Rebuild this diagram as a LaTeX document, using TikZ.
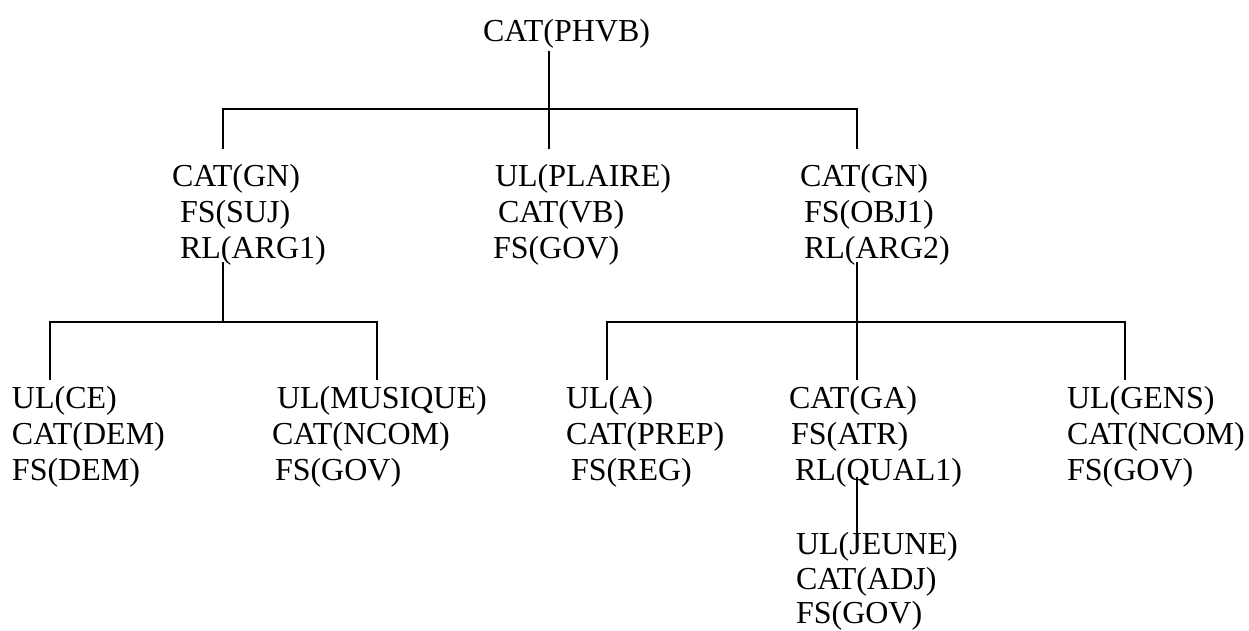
\documentclass[tikz,border=0pt]{standalone}
\usepackage{fontspec}
\setmainfont{Liberation Serif}
\begin{document}
\begin{tikzpicture}[x=1pt,y=-1pt,
  lbl/.style={anchor=base west,inner sep=0pt,outer sep=0pt,font=\fontsize{32}{36}\selectfont},
  branch/.style={line width=1.6pt,line cap=rect}]
\useasboundingbox (0,0) rectangle (1249,630);

% ---- labels ----
\node[lbl] (phvb) at (483,41) {CAT(PHVB)};

\node[lbl] (gn1)  at (172,186) {CAT(GN)};
\node[lbl] (suj)  at (180,222) {FS(SUJ)};
\node[lbl] (arg1) at (180,258) {RL(ARG1)};

\node[lbl] (plaire) at (495,186) {UL(PLAIRE)};
\node[lbl] (vb)     at (498,222) {CAT(VB)};
\node[lbl] (govvb)  at (493,258) {FS(GOV)};

\node[lbl] (gn2)  at (800,186) {CAT(GN)};
\node[lbl] (obj1) at (804,222) {FS(OBJ1)};
\node[lbl] (arg2) at (804,258) {RL(ARG2)};

\node[lbl] (ce)     at (12,408) {UL(CE)};
\node[lbl] (catdem) at (12,444) {CAT(DEM)};
\node[lbl] (fsdem)  at (12,480) {FS(DEM)};

\node[lbl] (musique) at (277,408) {UL(MUSIQUE)};
\node[lbl] (ncom1)   at (272,444) {CAT(NCOM)};
\node[lbl] (govmus)  at (275,480) {FS(GOV)};

\node[lbl] (ula)  at (566,408) {UL(A)};
\node[lbl] (prep) at (566,444) {CAT(PREP)};
\node[lbl] (reg)  at (571,480) {FS(REG)};

\node[lbl] (ga)    at (789,408) {CAT(GA)};
\node[lbl] (atr)   at (791,444) {FS(ATR)};
\node[lbl] (qual1) at (795,480) {RL(QUAL1)};

\node[lbl] (gens)   at (1067,408) {UL(GENS)};
\node[lbl] (ncom2)  at (1067,444) {CAT(NCOM)};
\node[lbl] (govgen) at (1067,480) {FS(GOV)};

\node[lbl] (jeune)  at (796,554) {UL(JEUNE)};
\node[lbl] (adj)    at (796,589) {CAT(ADJ)};
\node[lbl] (govadj) at (796,623) {FS(GOV)};

% ---- branch points ----
\coordinate (r0) at (549,52);
\coordinate (r1) at (549,148);
\coordinate (bL) at (223,109);
\coordinate (bM) at (549,109);
\coordinate (bR) at (857,109);
\coordinate (dL) at (223,148);
\coordinate (dR) at (857,148);

\coordinate (s0) at (223,263);
\coordinate (sL) at (50,322);
\coordinate (sM) at (223,322);
\coordinate (sR) at (377,322);
\coordinate (tL) at (50,379);
\coordinate (tR) at (377,379);

\coordinate (o0) at (857,263);
\coordinate (oL) at (607,322);
\coordinate (oR) at (1125,322);
\coordinate (oB) at (857,379);
\coordinate (uL) at (607,379);
\coordinate (uR) at (1125,379);

\coordinate (q0) at (857,478);
\coordinate (q1) at (857,533);

% ---- tree lines ----
\draw[branch] (r0) -- (r1);
\draw[branch] (dL) -- (bL) -- (bR) -- (dR);

\draw[branch] (s0) -- (sM);
\draw[branch] (tL) -- (sL) -- (sR) -- (tR);

\draw[branch] (o0) -- (oB);
\draw[branch] (uL) -- (oL) -- (oR) -- (uR);

\draw[branch] (q0) -- (q1);
\end{tikzpicture}
\end{document}
